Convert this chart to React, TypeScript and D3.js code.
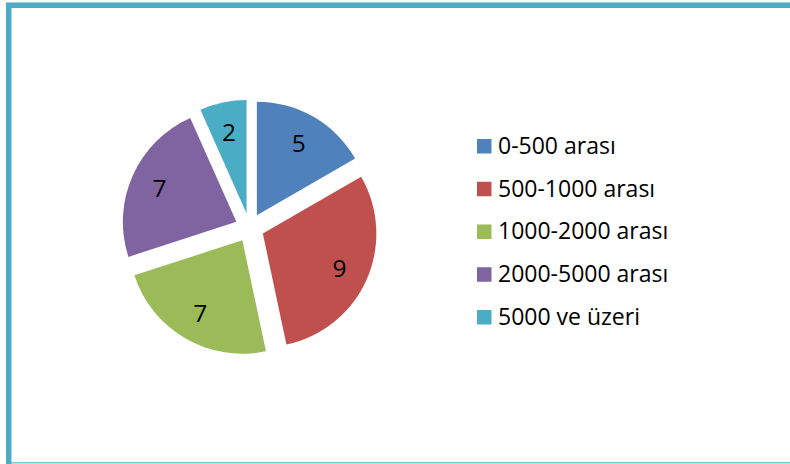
import React from "react";
import * as d3 from "d3";

const categories = ["0-500 arası", "500-1000 arası", "1000-2000 arası", "2000-5000 arası", "5000 ve üzeri"];
const values = [5, 9, 7, 7, 2];
const colors = ["#4F81BD", "#C0504D", "#9BBB59", "#8064A2", "#4BACC6"];

const W = 790;
const H = 464;
const cx = 249.6;
const cy = 227.7;
const R = 113.5;
const explode = 14.5;
const FONT = "'Open Sans', 'Noto Sans', sans-serif";

export default function App() {
  const pie = d3.pie<number>().sort(null).value((d) => d);
  const arcs = pie(values);
  const arcGen = d3.arc<d3.PieArcDatum<number>>().innerRadius(0).outerRadius(R);
  const labelArc = d3.arc<d3.PieArcDatum<number>>().innerRadius(R * 0.74).outerRadius(R * 0.74);

  const legendY = d3.scaleLinear().domain([0, categories.length - 1]).range([139, 310]);

  return (
    <svg
      width={W}
      height={H}
      style={{ position: "absolute", left: 0, top: 0, background: "#fff" }}
    >
      <rect x={0} y={0} width={W} height={H} fill="#fff" />
      {/* frame */}
      <rect x={6} y={2} width={W - 6} height={1} fill="#9fd2e0" />
      <rect x={6} y={3} width={W - 6} height={5} fill="#4BACC6" />
      <rect x={6} y={3} width={5} height={H - 3} fill="#4BACC6" />
      <rect x={11} y={8} width={1} height={H - 8} fill="#a9d8e4" />
      <rect x={11} y={462} width={W - 11} height={1.5} fill="#7fc0d2" />

      {/* pie */}
      <g transform={`translate(${cx},${cy})`}>
        {arcs.map((a, i) => {
          const mid = (a.startAngle + a.endAngle) / 2;
          const ox = Math.sin(mid) * explode;
          const oy = -Math.cos(mid) * explode;
          const [lx, ly] = labelArc.centroid(a);
          return (
            <g key={i} transform={`translate(${ox},${oy})`}>
              <path d={arcGen(a) || ""} fill={colors[i]} />
              <text
                x={lx}
                y={ly}
                textAnchor="middle"
                dominantBaseline="central"
                fontFamily={FONT}
                fontSize={24.5}
                fill="#000"
              >
                {values[i]}
              </text>
            </g>
          );
        })}
      </g>

      {/* legend */}
      {categories.map((c, i) => (
        <g key={c} transform={`translate(477,${legendY(i)})`}>
          <rect x={0} y={0} width={14.5} height={14.5} fill={colors[i]} />
          <text x={21} y={14.8} fontFamily={FONT} fontSize={23} fill="#000">
            {c}
          </text>
        </g>
      ))}
    </svg>
  );
}
